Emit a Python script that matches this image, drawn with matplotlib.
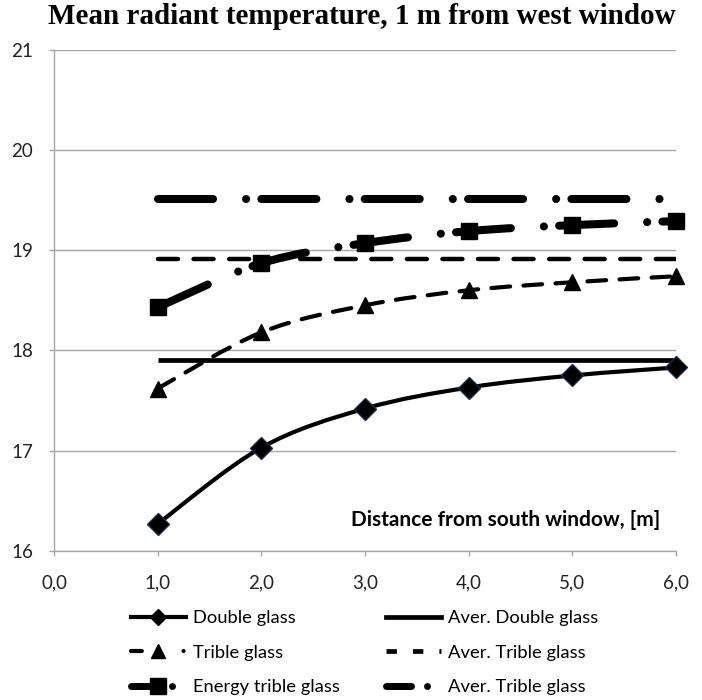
import matplotlib
matplotlib.use("Agg")
import matplotlib.pyplot as plt
import numpy as np
from matplotlib.lines import Line2D
from matplotlib.patches import PathPatch
from matplotlib.path import Path

# data
distance = [1.0, 2.0, 3.0, 4.0, 5.0, 6.0]
double_glass = [16.27, 17.03, 17.42, 17.63, 17.75, 17.83]
trible_glass = [17.62, 18.18, 18.45, 18.60, 18.68, 18.74]
energy_trible = [18.43, 18.87, 19.07, 19.19, 19.25, 19.29]
aver_double = 17.90
aver_trible = 18.91
aver_energy = 19.51

x_ticks = [0, 1, 2, 3, 4, 5, 6]
y_ticks = [16, 17, 18, 19, 20, 21]
labels = ["Double glass", "Aver. Double glass",
          "Trible glass", "Aver. Trible glass",
          "Energy trible glass", "Aver. Trible glass"]

TICK_FONT = "Lato"


def smooth_path(x, y, tension=1 / 6):
    # Catmull-Rom style bezier control points (same look as Excel smoothing)
    x = np.asarray(x, float)
    y = np.asarray(y, float)
    verts = [(x[0], y[0])]
    codes = [Path.MOVETO]
    n = len(x)
    for i in range(n - 1):
        p0 = np.array([x[max(i - 1, 0)], y[max(i - 1, 0)]])
        p1 = np.array([x[i], y[i]])
        p2 = np.array([x[i + 1], y[i + 1]])
        p3 = np.array([x[min(i + 2, n - 1)], y[min(i + 2, n - 1)]])
        c1 = p1 + (p2 - p0) * tension
        c2 = p2 - (p3 - p1) * tension
        verts += [tuple(c1), tuple(c2), tuple(p2)]
        codes += [Path.CURVE4] * 3
    return Path(verts, codes)


dash_dot = (0, (6.83, 4.1, 0.01, 1.89))
styles = {
    "double": dict(color="black", lw=3.0, ls="-"),
    "aver_double": dict(color="black", lw=3.4, ls="-"),
    "trible": dict(color="black", lw=3.0, ls=(0, (4.5, 3.2))),
    "aver_trible": dict(color="black", lw=3.2, ls=(0, (4.5, 3.5))),
    "energy": dict(color="black", lw=5.8, ls=dash_dot),
    "aver_energy": dict(color="black", lw=5.8, ls=dash_dot),
}

fig = plt.figure(figsize=(7.02, 7.00), dpi=100)
ax = fig.add_axes([0.077, 0.213, 0.886, 0.716])

ax.set_xlim(0, 6)
ax.set_ylim(16, 21)
ax.yaxis.grid(True, color="#a6a6a6", lw=1.0)
ax.set_axisbelow(True)
for s in ["top", "right"]:
    ax.spines[s].set_visible(False)
for s in ["left", "bottom"]:
    ax.spines[s].set_color("#a6a6a6")
    ax.spines[s].set_linewidth(1.0)

ax.set_xticks(x_ticks)
ax.set_xticklabels([f"{v:.1f}".replace(".", ",") for v in x_ticks],
                   fontsize=13.5, family=TICK_FONT)
ax.set_yticks(y_ticks)
ax.set_yticklabels([str(v) for v in y_ticks], fontsize=13.5, family=TICK_FONT)
ax.tick_params(axis="both", color="#a6a6a6", length=3.6, width=1.0,
               labelcolor="#222222")
ax.tick_params(axis="x", pad=13.5)
ax.tick_params(axis="y", pad=11.4)

# average lines
ax.plot([distance[0], distance[-1]], [aver_double] * 2, solid_capstyle="butt",
        **styles["aver_double"])
ax.plot([distance[0], distance[-1]], [aver_trible] * 2, dash_capstyle="round",
        **styles["aver_trible"])
ax.plot([distance[0], distance[-1] - 0.04], [aver_energy] * 2,
        dash_capstyle="round", **styles["aver_energy"])

# smoothed series
for key, yv in [("double", double_glass), ("trible", trible_glass),
                ("energy", energy_trible)]:
    st = styles[key]
    patch = PathPatch(smooth_path(distance, yv), facecolor="none",
                      edgecolor=st["color"], lw=st["lw"], ls=st["ls"],
                      capstyle="round", zorder=3)
    ax.add_patch(patch)

ax.plot(distance, double_glass, ls="none", marker="D", ms=11,
        mfc="black", mec="#1f2a44", mew=1.0, zorder=4, clip_on=False)
ax.plot(distance, trible_glass, ls="none", marker="^", ms=12,
        mfc="black", mec="black", zorder=4, clip_on=False)
ax.plot(distance, energy_trible, ls="none", marker="s", ms=12,
        mfc="black", mec="black", zorder=4, clip_on=False)

ax.text(5.85, 16.31, "Distance from south window, [m]", ha="right",
        va="center", fontsize=15, fontweight="bold", family=TICK_FONT)

fig.text(0.516, 0.977, "Mean radiant temperature, 1 m from west window",
         ha="center", va="center", fontsize=21, fontweight="bold",
         family="Liberation Serif")

# legend handles use shorter patterns, like the Excel legend keys
handles = [
    Line2D([], [], marker="D", ms=8, mfc="black", mec="black",
           color="black", lw=3.0),
    Line2D([], [], marker="^", ms=10, mfc="black", mec="black",
           color="black", lw=3.0, ls=(0, (2.6, 10.0, 0.01, 5)),
           dash_capstyle="round"),
    Line2D([], [], marker="s", ms=11, mfc="black", mec="black",
           color="black", lw=5.0, ls=(0, (4.0, 1.9, 0.01, 5)),
           dash_capstyle="round"),
    Line2D([], [], color="black", lw=3.4),
    Line2D([], [], color="black", lw=3.4, ls=(0, (2.2, 3.4))),
    Line2D([], [], color="black", lw=5.0, ls=(0, (3.6, 2.3, 0.01, 5)),
           dash_capstyle="round"),
]
leg_labels = [labels[0], labels[2], labels[4], labels[1], labels[3], labels[5]]
leg = fig.legend(handles, leg_labels, ncol=2, loc="upper left",
                 bbox_to_anchor=(0.186, 0.128), frameon=False,
                 prop={"family": TICK_FONT, "size": 13.2},
                 handlelength=3.0, handletextpad=0.4, columnspacing=2.5,
                 labelspacing=1.0, borderaxespad=0, borderpad=0)

fig.savefig("out.png", dpi=100)
